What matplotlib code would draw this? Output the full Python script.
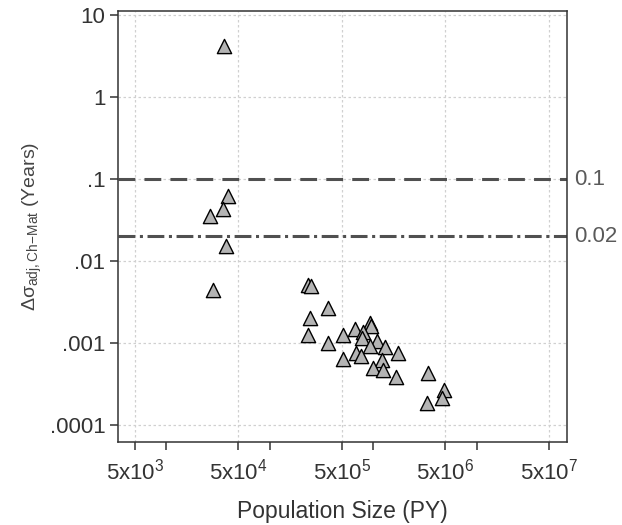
import numpy as np
import matplotlib
matplotlib.use("Agg")
import matplotlib.pyplot as plt
from matplotlib.ticker import FixedLocator, FixedFormatter, NullFormatter
import matplotlib.transforms as mtransforms

plt.rcParams["font.family"] = ["Liberation Sans", "DejaVu Sans"]
plt.rcParams["mathtext.fontset"] = "custom"
plt.rcParams["mathtext.rm"] = "Liberation Sans"
plt.rcParams["mathtext.it"] = "Liberation Sans:italic"
plt.rcParams["mathtext.bf"] = "Liberation Sans:bold"

# data
pop_size = [3.62e4, 3.96e4, 3.54e4, 2.65e4, 3.79e4, 2.84e4,
            2.35e5, 2.51e5, 3.66e5, 2.45e5, 2.35e5, 3.66e5, 5.11e5,
            6.68e5, 9.33e5, 9.53e5, 7.98e5, 7.80e5, 1.09e6, 1.30e6,
            9.33e5, 1.74e6, 5.11e5, 6.83e5, 7.63e5, 1.22e6, 9.98e5,
            1.24e6, 1.66e6, 3.39e6, 4.83e6, 4.62e6, 3.31e6]
delta_sigma = [4.25, 0.062, 0.043, 0.0354, 0.0152, 0.00443,
               0.00509, 0.0050, 0.00267, 0.00202, 0.00125, 0.0010, 0.00125,
               0.00148, 0.00175, 0.00161, 0.00136, 0.00115, 0.00106, 0.000893,
               0.000919, 0.000755, 0.000638, 0.000755, 0.000693, 0.000620, 0.000495,
               0.000469, 0.000385, 0.000430, 0.000267, 0.000213, 0.000185]

xticks = [5e3, 5e4, 5e5, 5e6, 5e7]
xticklabels = [r"5x10$^{3}$", r"5x10$^{4}$", r"5x10$^{5}$", r"5x10$^{6}$", r"5x10$^{7}$"]
xminor = [1e4, 1e5, 1e6, 1e7]
yticks = [1e-4, 1e-3, 1e-2, 1e-1, 1, 10]
yticklabels = [".0001", ".001", ".01", ".1", "1", "10"]
ref_lines = [0.1, 0.02]
ref_labels = ["0.1", "0.02"]
ref_styles = [(0, (5.5, 3)), (0, (5.5, 1.5, 1, 1.5))]

fig = plt.figure(figsize=(6.22, 5.25), dpi=100)
ax = fig.add_axes([0.1897, 0.1581, 0.7219, 0.8209])

ax.set_xscale("log")
ax.set_yscale("log")
ax.set_xlim(10**3.535, 10**7.873)
ax.set_ylim(10**-4.207, 10**1.049)

ax.grid(True, which="major", color="#d0d0d0", linestyle=(0, (2, 2)), linewidth=0.9)
ax.set_axisbelow(True)

# reference lines at 0.1 and 0.02
for val, lab, ls in zip(ref_lines, ref_labels, ref_styles):
    ax.axhline(val, color="#505050", linewidth=2.2, linestyle=ls, zorder=2)
    trans = mtransforms.blended_transform_factory(ax.transAxes, ax.transData)
    ax.text(1.015, val, lab, transform=trans, ha="left", va="center",
            fontsize=16, color="#5a5a5a")

ax.scatter(pop_size, delta_sigma, marker="^", s=105, facecolor="#b4b4b4",
           edgecolor="black", linewidth=1.0, zorder=3)

ax.xaxis.set_major_locator(FixedLocator(xticks))
ax.xaxis.set_major_formatter(FixedFormatter(xticklabels))
ax.xaxis.set_minor_locator(FixedLocator(xminor))
ax.xaxis.set_minor_formatter(NullFormatter())
ax.yaxis.set_major_locator(FixedLocator(yticks))
ax.yaxis.set_major_formatter(FixedFormatter(yticklabels))
ax.yaxis.set_minor_locator(FixedLocator([]))

ax.tick_params(axis="both", which="both", direction="out", length=6,
               width=1.1, color="#333333", labelsize=16, labelcolor="#333333")
ax.tick_params(axis="x", pad=6)
ax.tick_params(axis="y", pad=3)

for sp in ax.spines.values():
    sp.set_color("#333333")
    sp.set_linewidth(1.1)

ax.set_xlabel("Population Size (PY)", fontsize=16.5, color="#333333", labelpad=11)
ax.set_ylabel(r"$\Delta\mathrm{\sigma}_{\mathrm{adj,Ch\!-\!Mat}}$ (Years)", fontsize=14,
              color="#444444", labelpad=4)

fig.savefig("out.png", dpi=100)
